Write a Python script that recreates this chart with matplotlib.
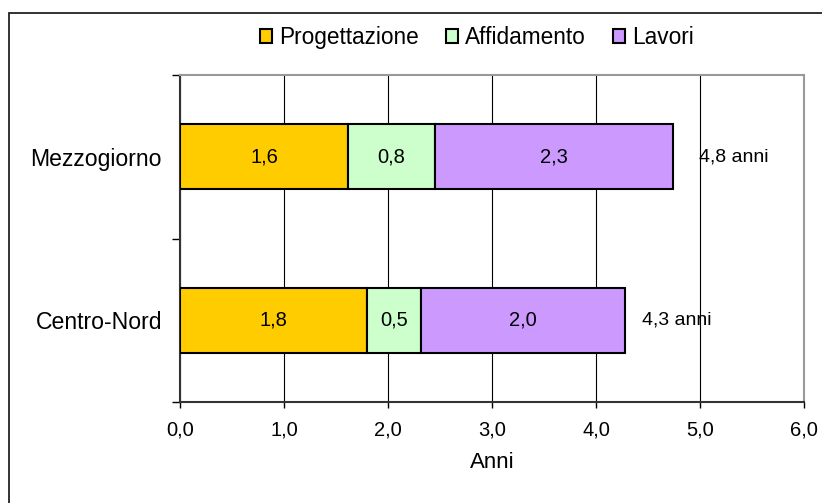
import matplotlib
matplotlib.use("Agg")
import matplotlib.pyplot as plt
from matplotlib.patches import Rectangle

plt.rcParams['font.family'] = ['Liberation Sans', 'DejaVu Sans']

# data
aree = ["Mezzogiorno", "Centro-Nord"]
progettazione = [1.62, 1.80]
affidamento = [0.83, 0.52]
lavori = [2.29, 1.96]
etichette_prog = ["1,6", "1,8"]
etichette_aff = ["0,8", "0,5"]
etichette_lav = ["2,3", "2,0"]
totali = ["4,8 anni", "4,3 anni"]
xtick_labels = ["0,0", "1,0", "2,0", "3,0", "4,0", "5,0", "6,0"]

colori = ["#FFCC00", "#CCFFCC", "#CC99FF"]
nomi = ["Progettazione", "Affidamento", "Lavori"]

fig = plt.figure(figsize=(8.22, 5.03), dpi=100)
ax = fig.add_axes([180/822, 101/503, 624/822, 327/503])

ypos = [0, 1]
serie = [progettazione, affidamento, lavori]
etichette = [etichette_prog, etichette_aff, etichette_lav]
left = [0, 0]
for vals, labs, col, nome in zip(serie, etichette, colori, nomi):
    bars = ax.barh(ypos, vals, left=left, height=0.40, color=col,
                   edgecolor="black", linewidth=1.5, label=nome, zorder=3)
    for b, lab in zip(bars, labs):
        ax.text(b.get_x() + b.get_width()/2, b.get_y() + b.get_height()/2, lab,
                ha="center", va="center", fontsize=14.5, zorder=4)
    left = [l + v for l, v in zip(left, vals)]

# totals next to each bar
offsets = [19, 12]
for y, tot, lab, off in zip(ypos, left, totali, offsets):
    ax.annotate(lab, xy=(tot, y), xytext=(off, 0), textcoords="offset points",
                ha="left", va="center", fontsize=14)

ax.set_xlim(0, 6)
ax.set_ylim(1.5, -0.5)
ax.set_xticks(range(7))
ax.set_xticklabels(xtick_labels, fontsize=14.5)
ax.set_yticks(ypos)
ax.set_yticklabels(aree, fontsize=16.6)
ax.set_yticks([-0.5, 0.5, 1.5], minor=True)
ax.tick_params(axis="y", which="major", length=0, pad=13)
ax.tick_params(axis="y", which="minor", length=6, width=1, direction="out")
ax.tick_params(axis="x", length=4, width=1, pad=9)
ax.set_xlabel("Anni", fontsize=16, labelpad=9)

ax.grid(axis="x", color="black", linewidth=0.8, zorder=0)
ax.set_axisbelow(True)
for s in ["left", "bottom"]:
    ax.spines[s].set_color("#333333")
    ax.spines[s].set_linewidth(1.5)
for s in ["top", "right"]:
    ax.spines[s].set_color("#999999")
    ax.spines[s].set_linewidth(1.5)

fig.legend(loc="center", bbox_to_anchor=(0.58, 0.926), ncol=3, frameon=False,
           fontsize=16.3, handlelength=0.55, handleheight=0.55, handletextpad=0.3,
           columnspacing=1.2)

# outer border of the chart area
fig.patches.append(Rectangle((9/822, -0.1), 1.2, (490/503) + 0.1,
                             transform=fig.transFigure, fill=False,
                             edgecolor="#222222", linewidth=1.3))

fig.savefig("out.png", dpi=100)
